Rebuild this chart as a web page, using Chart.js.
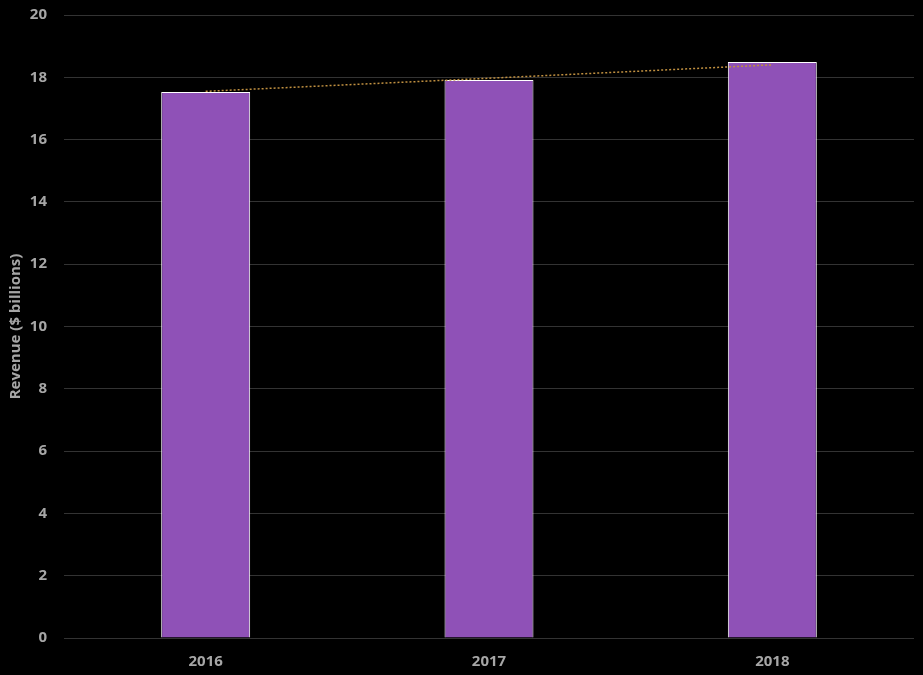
<!DOCTYPE html>
<html>
<head>
<meta charset="utf-8">
<script src="https://cdn.jsdelivr.net/npm/chart.js@4"></script>
<style>
  html, body { margin: 0; padding: 0; background: #000; }
  #wrap { width: 923px; height: 675px; }
</style>
</head>
<body>
<div id="wrap"><canvas id="revenueChart"></canvas></div>
<script>
const years = ["2016", "2017", "2018"];
const revenue = [17.53, 17.91, 18.49];
const trend = [17.55, 17.97, 18.40]; // linear trendline
const yTicks = [0, 2, 4, 6, 8, 10, 12, 14, 16, 18, 20];

const labelFont = { family: "'Open Sans', sans-serif", size: 15, weight: 'bold' };
const grey = '#a6a6a6';

const ctx = document.getElementById('revenueChart').getContext('2d');

new Chart(ctx, {
  data: {
    labels: years,
    datasets: [
      {
        type: 'line',
        label: 'Trend',
        data: trend,
        borderColor: '#c09040',
        borderWidth: 1.5,
        borderDash: [2, 2],
        pointRadius: 0,
        fill: false,
        order: 0
      },
      {
        type: 'bar',
        label: 'Revenue',
        data: revenue,
        backgroundColor: '#8f51b7',
        borderColor: '#ffffff',
        borderWidth: 1,
        categoryPercentage: 1,
        barPercentage: 0.314,
        order: 1
      }
    ]
  },
  options: {
    responsive: true,
    maintainAspectRatio: false,
    animation: false,
    layout: { padding: { top: 15, right: 9, bottom: -11, left: 0 } },
    plugins: {
      legend: { display: false },
      tooltip: { enabled: false }
    },
    scales: {
      x: {
        grid: { display: false, drawTicks: false },
        border: { display: false },
        ticks: { color: grey, font: labelFont, padding: 15 },
        afterFit: axis => { axis.paddingLeft = 0; axis.paddingRight = 0; }
      },
      y: {
        min: 0,
        max: 20,
        afterBuildTicks: axis => { axis.ticks = yTicks.map(v => ({ value: v })); },
        afterFit: axis => { axis.width = 64; axis.paddingTop = 0; axis.paddingBottom = 0; },
        grid: { color: '#333333', lineWidth: 1, drawTicks: false },
        border: { display: false },
        ticks: { color: grey, font: labelFont, padding: 17 },
        title: {
          display: true,
          text: 'Revenue ($ billions)',
          color: grey,
          font: labelFont,
          padding: { top: 7, bottom: 0 }
        }
      }
    }
  }
});
</script>
</body>
</html>
